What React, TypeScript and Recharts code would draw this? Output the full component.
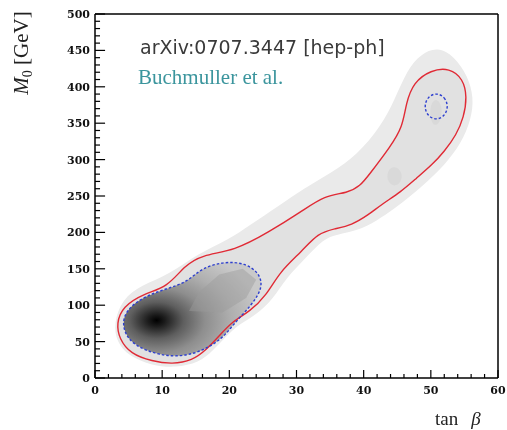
import { ScatterChart, Scatter, XAxis, YAxis, ReferenceLine } from 'recharts';

// tick positions: minor ticks get a short line, majors a long line and a label
const xMinorTicks = [0, 2, 4, 6, 8, 10, 12, 14, 16, 18, 20, 22, 24, 26, 28, 30, 32, 34, 36, 38, 40, 42, 44, 46, 48, 50, 52, 54, 56, 58, 60];
const xMajorTicks = [0, 10, 20, 30, 40, 50, 60];
const yMinorTicks = [
  0, 10, 20, 30, 40, 50, 60, 70, 80, 90, 100, 110, 120, 130, 140, 150, 160, 170, 180, 190, 200,
  210, 220, 230, 240, 250, 260, 270, 280, 290, 300, 310, 320, 330, 340, 350, 360, 370, 380, 390, 400,
  410, 420, 430, 440, 450, 460, 470, 480, 490, 500,
];
const yMajorTicks = [0, 50, 100, 150, 200, 250, 300, 350, 400, 450, 500];

// light gray likelihood band (outermost shading)
const grayBand = [
  { x: 2.8, y: 75 }, { x: 3.2, y: 50 }, { x: 5, y: 30 }, { x: 8.5, y: 17 }, { x: 12, y: 14 },
  { x: 15.5, y: 21 }, { x: 17.5, y: 37 }, { x: 19.5, y: 57 }, { x: 21.5, y: 74 }, { x: 24, y: 87 },
  { x: 26.5, y: 108 }, { x: 28.5, y: 138 }, { x: 31.5, y: 166 }, { x: 34, y: 191 }, { x: 36, y: 197 },
  { x: 39, y: 202 }, { x: 42, y: 216 }, { x: 44.5, y: 232 }, { x: 47, y: 250 }, { x: 49.5, y: 270 },
  { x: 52, y: 292 }, { x: 54.5, y: 322 }, { x: 56, y: 355 }, { x: 56.4, y: 385 }, { x: 55.5, y: 415 },
  { x: 53.5, y: 442 }, { x: 51, y: 455 }, { x: 48.5, y: 445 }, { x: 46.5, y: 424 }, { x: 44.6, y: 382 },
  { x: 42.6, y: 346 }, { x: 39, y: 306 }, { x: 35.2, y: 282 }, { x: 31, y: 260 }, { x: 27.3, y: 236 },
  { x: 23, y: 210 }, { x: 19.9, y: 190 }, { x: 15.5, y: 172 }, { x: 11, y: 142 }, { x: 7, y: 128 },
  { x: 4, y: 108 },
];

// red solid contour
const redContour = [
  { x: 3.2, y: 75 }, { x: 3.6, y: 54 }, { x: 5.3, y: 33 }, { x: 8.5, y: 23 }, { x: 11.5, y: 19 },
  { x: 14.5, y: 24 }, { x: 16.5, y: 38 }, { x: 18.5, y: 58 }, { x: 20.5, y: 78 }, { x: 23, y: 91 },
  { x: 25.5, y: 113 }, { x: 27.5, y: 146 }, { x: 30.8, y: 174 }, { x: 33.2, y: 199 }, { x: 35.7, y: 205 },
  { x: 38.2, y: 210 }, { x: 40.7, y: 224 }, { x: 42.6, y: 238 }, { x: 45.6, y: 256 }, { x: 47.8, y: 274 },
  { x: 50.2, y: 293 }, { x: 52, y: 311 }, { x: 53.8, y: 334 }, { x: 54.9, y: 358 }, { x: 55.4, y: 386 },
  { x: 54.8, y: 411 }, { x: 52.8, y: 426 }, { x: 50, y: 423 }, { x: 47.4, y: 406 }, { x: 46.3, y: 377 },
  { x: 45.8, y: 345 }, { x: 44, y: 318 }, { x: 40.7, y: 278 }, { x: 39.5, y: 264 }, { x: 37.6, y: 254 },
  { x: 34.2, y: 251 }, { x: 30.8, y: 229 }, { x: 25.8, y: 200 }, { x: 20.8, y: 175 }, { x: 15.9, y: 169 },
  { x: 13.3, y: 154 }, { x: 10.8, y: 125 }, { x: 7.3, y: 116 }, { x: 4.1, y: 98 },
];

// blue dashed contour, low-tanb region
const blueLow = [
  { x: 4.0, y: 74 }, { x: 4.9, y: 52 }, { x: 7.5, y: 37 }, { x: 11.5, y: 28 }, { x: 15.4, y: 34 },
  { x: 18.9, y: 53 }, { x: 20.8, y: 76 }, { x: 23.3, y: 100 }, { x: 25, y: 124 }, { x: 24.5, y: 144 },
  { x: 22.3, y: 158 }, { x: 19.3, y: 160 }, { x: 15.8, y: 151 }, { x: 13.8, y: 132 }, { x: 10.8, y: 123 },
  { x: 7.3, y: 112 }, { x: 4.7, y: 94 },
];

// medium gray facet in the upper part of the low region
const midFacet = [
  { x: 14, y: 92 }, { x: 15.5, y: 118 }, { x: 18.5, y: 142 }, { x: 22, y: 150 }, { x: 24, y: 135 },
  { x: 22.5, y: 110 }, { x: 19, y: 90 },
];

// blue dashed contour, high-tanb island
const blueHigh = [
  { x: 50.8, y: 392 }, { x: 52.1, y: 386 }, { x: 52.6, y: 373 }, { x: 52.1, y: 360 }, { x: 50.8, y: 354 },
  { x: 49.5, y: 360 }, { x: 49, y: 373 }, { x: 49.5, y: 386 },
];

// faint darker patches inside the band
const spotMid = [
  { x: 44.6, y: 292 }, { x: 45.8, y: 283 }, { x: 45.6, y: 268 }, { x: 44.4, y: 262 }, { x: 43.4, y: 272 }, { x: 43.6, y: 286 },
];
const spotTop = [
  { x: 50.9, y: 385 }, { x: 51.8, y: 372 }, { x: 51.4, y: 350 }, { x: 50.4, y: 345 }, { x: 49.8, y: 360 }, { x: 50, y: 378 },
];

const noDot = () => <g />;
const tickFont = { fontFamily: 'DejaVu Serif', fontWeight: 'bold', fontSize: 11, fill: '#111' };

function XLabel(props: any) {
  const { x, y, payload } = props;
  return (
    <text x={x} y={Number(y) + 16} textAnchor="middle" {...tickFont}>
      {payload.value}
    </text>
  );
}

function YLabel(props: any) {
  const { x, y, payload } = props;
  return (
    <text x={Number(x) - 5} y={Number(y) + 4} textAnchor="end" {...tickFont}>
      {payload.value}
    </text>
  );
}

export default function App() {
  return (
    <div style={{ position: 'fixed', left: 8, top: 8, width: 499, height: 422 }}>
      <svg width={0} height={0} style={{ position: 'absolute' }}>
        <defs>
          <radialGradient id="blobGrad" cx="0.24" cy="0.62" r="0.78" fx="0.24" fy="0.62">
            <stop offset="0" stopColor="#000" />
            <stop offset="0.08" stopColor="#1c1c1c" />
            <stop offset="0.25" stopColor="#5e5e5e" />
            <stop offset="0.45" stopColor="#8e8e8e" />
            <stop offset="0.7" stopColor="#afafaf" />
            <stop offset="1" stopColor="#c9c9c9" />
          </radialGradient>
        </defs>
      </svg>
      <div style={{ position: 'absolute', left: 0, top: 0 }}>
        <ScatterChart width={499} height={422} margin={{ top: 6, right: 9, bottom: 51, left: 86 }}>
          <XAxis
            type="number"
            dataKey="x"
            domain={[0, 60]}
            ticks={xMajorTicks}
            interval={0}
            allowDataOverflow
            height={1}
            tickSize={0}
            tickMargin={0}
            tickLine={false}
            tick={<XLabel />}
            axisLine={{ stroke: '#000', strokeWidth: 1.5 }}
          />
          <YAxis
            type="number"
            dataKey="y"
            domain={[0, 500]}
            ticks={yMajorTicks}
            interval={0}
            allowDataOverflow
            width={1}
            tickSize={0}
            tickMargin={0}
            tickLine={false}
            tick={<YLabel />}
            axisLine={{ stroke: '#000', strokeWidth: 1.5 }}
          />
          <Scatter data={grayBand} shape={noDot} line={{ fill: '#eaeaea', stroke: 'none' }} lineJointType="basisClosed" isAnimationActive={false} />
          <Scatter data={redContour} shape={noDot} line={{ fill: '#e1e1e1', stroke: 'none' }} lineJointType="basisClosed" isAnimationActive={false} />
          <Scatter data={spotMid} shape={noDot} line={{ fill: '#d9d9d9', stroke: 'none' }} lineJointType="basisClosed" isAnimationActive={false} />
          <Scatter data={spotTop} shape={noDot} line={{ fill: '#d9d9d9', stroke: 'none' }} lineJointType="basisClosed" isAnimationActive={false} />
          <Scatter data={blueLow} shape={noDot} line={{ fill: 'url(#blobGrad)', stroke: 'none' }} lineJointType="basisClosed" isAnimationActive={false} />
          <Scatter data={midFacet} shape={noDot} line={{ fill: '#9c9c9c', fillOpacity: 0.45, stroke: 'none' }} lineJointType="linearClosed" isAnimationActive={false} />
          <Scatter data={redContour} shape={noDot} line={{ fill: 'none', stroke: '#e02a35', strokeWidth: 1.4 }} lineJointType="basisClosed" isAnimationActive={false} />
          <Scatter data={blueLow} shape={noDot} line={{ fill: 'none', stroke: '#2d3fcf', strokeWidth: 1.4, strokeDasharray: '2.5 2' }} lineJointType="basisClosed" isAnimationActive={false} />
          <Scatter data={blueHigh} shape={noDot} line={{ fill: 'none', stroke: '#2d3fcf', strokeWidth: 1.4, strokeDasharray: '2.5 2' }} lineJointType="basisClosed" isAnimationActive={false} />
          <ReferenceLine y={500} stroke="#000" strokeWidth={1.5} />
          <ReferenceLine x={60} stroke="#000" strokeWidth={1.5} />
          {/* inward tick marks, lengths given in axis units (~8/4 px and ~10/5 px) */}
          {xMinorTicks.map((v) => (
            <ReferenceLine
              key={`xt${v}`}
              segment={[{ x: v, y: 0 }, { x: v, y: xMajorTicks.includes(v) ? 11 : 5.5 }]}
              stroke="#000"
              strokeWidth={1.2}
              ifOverflow="visible"
            />
          ))}
          {yMinorTicks.map((v) => (
            <ReferenceLine
              key={`yt${v}`}
              segment={[{ x: 0, y: v }, { x: yMajorTicks.includes(v) ? 1.5 : 0.75, y: v }]}
              stroke="#000"
              strokeWidth={1.2}
              ifOverflow="visible"
            />
          ))}
        </ScatterChart>
      </div>
      <svg width={499} height={422} style={{ position: 'absolute', left: 0, top: 0, pointerEvents: 'none' }}>
        <text x={132} y={46} fontFamily="DejaVu Sans" fontSize={19} fill="#3a3a3a">
          arXiv:0707.3447 [hep-ph]
        </text>
        <text x={130} y={76} fontFamily="Liberation Serif" fontSize={21} fill="#3b959d">
          Buchmuller et al.
        </text>
        <text
          x={20}
          y={45}
          transform="rotate(-90, 20, 45)"
          textAnchor="middle"
          fontFamily="Liberation Serif"
          fontSize={21}
          fill="#222"
        >
          <tspan fontStyle="italic">M</tspan>
          <tspan fontSize={14} dy={4}>0</tspan>
          <tspan dy={-4}> [GeV]</tspan>
        </text>
        <text x={427} y={417} fontFamily="Liberation Serif" fontSize={19} fill="#222">
          tan
          <tspan dx={13} fontStyle="italic">β</tspan>
        </text>
      </svg>
    </div>
  );
}
